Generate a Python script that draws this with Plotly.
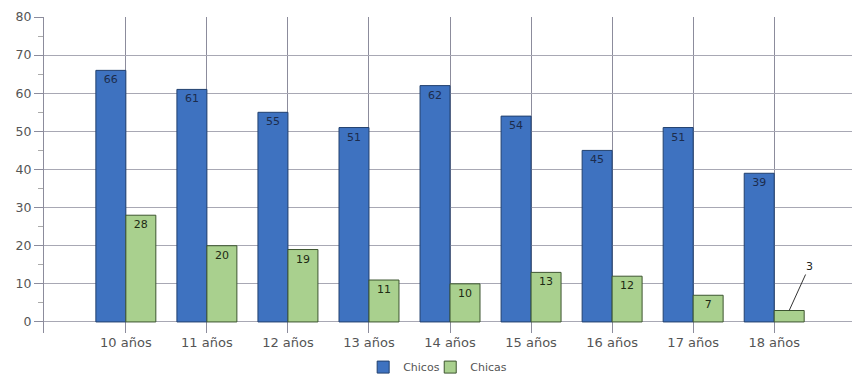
import plotly.graph_objects as go

categories = ["10 años", "11 años", "12 años", "13 años", "14 años", "15 años", "16 años", "17 años", "18 años"]
chicos = [66, 61, 55, 51, 62, 54, 45, 51, 39]
chicas = [28, 20, 19, 11, 10, 13, 12, 7, 3]
y_ticks = [0, 10, 20, 30, 40, 50, 60, 70, 80]

BLUE = "#3e72c0"
BLUE_EDGE = "#22406e"
GREEN = "#a9d08e"
GREEN_EDGE = "#3d5530"
FONT = "DejaVu Sans"

small_threshold = 5
chicas_text = [str(v) if v >= small_threshold else "" for v in chicas]

fig = go.Figure()
fig.add_trace(go.Bar(
    name="Chicos", x=categories, y=chicos, legend="legend",
    text=[str(v) for v in chicos], textposition="inside", insidetextanchor="end",
    textfont=dict(family=FONT, size=11, color="#1c2c4c"),
    marker=dict(color=BLUE, line=dict(color=BLUE_EDGE, width=1)),
))
fig.add_trace(go.Bar(
    name="Chicas", x=categories, y=chicas, legend="legend2",
    text=chicas_text, textposition="inside", insidetextanchor="end",
    textfont=dict(family=FONT, size=11, color="#1e2a14"),
    marker=dict(color=GREEN, line=dict(color=GREEN_EDGE, width=1)),
))

for cat, v in zip(categories, chicas):
    if v < small_threshold:
        fig.add_annotation(
            x=cat, y=v, xshift=15, text=str(v), showarrow=True, arrowhead=0,
            arrowwidth=1, arrowcolor="#333333", ax=20, ay=-44,
            font=dict(family=FONT, size=11, color="#222222"),
        )

legend_common = dict(orientation="h", y=-0.062, yanchor="top", xanchor="left",
                     bgcolor="rgba(0,0,0,0)",
                     font=dict(family=FONT, size=11, color="#555555"))

fig.update_layout(
    width=852, height=378,
    margin=dict(l=44, r=0, t=17, b=45, autoexpand=False),
    paper_bgcolor="white", plot_bgcolor="white",
    barmode="group", bargap=0.26, bargroupgap=0,
    uniformtext=dict(minsize=11, mode="show"),
    font=dict(family=FONT, size=12, color="#555555"),
    showlegend=True,
    legend=dict(x=0.395, **legend_common),
    legend2=dict(x=0.478, **legend_common),
)
fig.update_xaxes(
    range=[-1.01, 8.96], showgrid=True, gridcolor="#8c8c9c", gridwidth=1,
    ticks="", showline=False, zeroline=False, automargin=False,
    tickfont=dict(family=FONT, size=13, color="#555555"),
)
fig.update_yaxes(
    range=[-2.9, 80], tickvals=y_ticks, showgrid=True, gridcolor="#a8a8b4", gridwidth=1,
    ticks="outside", ticklen=9, tickcolor="#8c8c9c",
    minor=dict(dtick=5, ticks="outside", ticklen=5, tickcolor="#aaaaaa", showgrid=False),
    showline=True, linecolor="#8c8c9c", linewidth=1, zeroline=False, automargin=False,
    tickfont=dict(family=FONT, size=12.5, color="#555555"),
)

fig.write_html("out.html", config={"displayModeBar": False},
               post_script="document.body.style.margin='0';")
